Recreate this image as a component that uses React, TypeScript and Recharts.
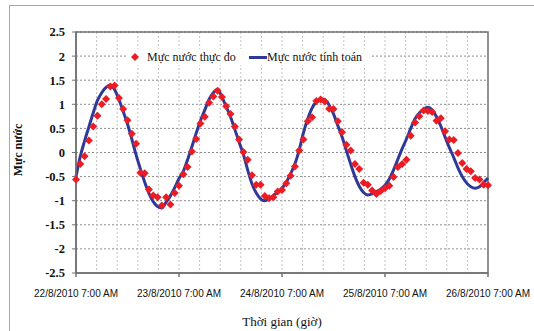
import {
  CartesianGrid,
  ComposedChart,
  Line,
  ReferenceArea,
  Scatter,
  XAxis,
  YAxis,
} from "recharts";

const OBS_RED = "#ec1c24"; // mực nước thực đo
const CALC_BLUE = "#2f3a98"; // mực nước tính toán
const AXIS_GRAY = "#727272";
const SERIF = "'Liberation Serif', 'Times New Roman', serif";
const SANS = "'Liberation Sans', Arial, sans-serif";

// hourly readings from 22/8/2010 7:00 AM, index = hours elapsed
const OBSERVED = [
  -0.56, -0.24, -0.08, 0.25, 0.54, 0.76, 1.0, 1.11, 1.37, 1.39, 1.13, 0.9, 0.67, 0.39, 0.18, -0.42,
  -0.43, -0.77, -0.89, -0.93, -1.1, -0.93, -1.08, -0.84, -0.69, -0.45, -0.3, 0.02, 0.28, 0.6, 0.74,
  1.03, 1.16, 1.28, 1.15, 0.96, 0.8, 0.54, 0.27, 0.01, -0.15, -0.47, -0.67, -0.67, -0.9, -0.95, -0.93,
  -0.81, -0.78, -0.64, -0.48, -0.29, 0.04, 0.27, 0.65, 0.73, 1.07, 1.1, 1.06, 0.91, 0.9, 0.65, 0.42,
  0.16, 0.04, -0.24, -0.34, -0.63, -0.67, -0.79, -0.86, -0.8, -0.74, -0.69, -0.51, -0.3, -0.24, -0.15,
  0.35, 0.62, 0.75, 0.87, 0.86, 0.84, 0.66, 0.71, 0.44, 0.27, 0.26, -0.01, -0.22, -0.34, -0.39, -0.53,
  -0.56, -0.67, -0.68,
];

const COMPUTED = [
  -0.5, -0.08, 0.24, 0.53, 0.82, 1.08, 1.24, 1.35, 1.4, 1.3, 1.1, 0.85, 0.59, 0.28, -0.05, -0.34,
  -0.61, -0.85, -1.02, -1.12, -1.15, -1.03, -0.9, -0.73, -0.54, -0.39, -0.15, 0.12, 0.4, 0.66, 0.88,
  1.1, 1.24, 1.31, 1.15, 0.95, 0.74, 0.48, 0.22, -0.04, -0.36, -0.65, -0.84, -0.96, -1.0, -0.96, -0.89,
  -0.82, -0.74, -0.62, -0.44, -0.24, 0.05, 0.41, 0.7, 0.92, 1.05, 1.11, 1.09, 0.98, 0.8, 0.56, 0.32,
  0.04, -0.24, -0.5, -0.7, -0.83, -0.88, -0.86, -0.81, -0.76, -0.68, -0.55, -0.36, -0.14, 0.08, 0.28,
  0.5, 0.7, 0.82, 0.9, 0.94, 0.88, 0.74, 0.55, 0.32, 0.1, -0.1, -0.32, -0.5, -0.63, -0.71, -0.74,
  -0.71, -0.62, -0.53,
];

const DAY_HOURS = [0, 24, 48, 72, 96];
const DAY_LABELS = [
  "22/8/2010 7:00 AM",
  "23/8/2010 7:00 AM",
  "24/8/2010 7:00 AM",
  "25/8/2010 7:00 AM",
  "26/8/2010 7:00 AM",
];
// vertical grid every 4.8 h, labels only on whole days
const GRID_HOURS = [
  0, 4.8, 9.6, 14.4, 19.2, 24, 28.8, 33.6, 38.4, 43.2, 48, 52.8, 57.6, 62.4, 67.2, 72, 76.8, 81.6,
  86.4, 91.2, 96,
];
const Y_TICKS = [-2.5, -2, -1.5, -1, -0.5, 0, 0.5, 1, 1.5, 2, 2.5];

const rows = OBSERVED.map((obs, hour) => ({ hour, obs, calc: COMPUTED[hour] }));

function Diamond({ cx, cy }: { cx?: number; cy?: number }) {
  if (cx == null || cy == null) return null;
  const r = 4;
  return (
    <path
      d={`M${cx},${cy - r}L${cx + r},${cy}L${cx},${cy + r}L${cx - r},${cy}Z`}
      fill={OBS_RED}
    />
  );
}

function DayTick({ x, y, payload }: { x?: number; y?: number; payload?: { value: number } }) {
  const i = payload ? DAY_HOURS.indexOf(payload.value) : -1;
  if (i < 0 || x == null || y == null) return <g />;
  return (
    <g>
      <line x1={x} x2={x} y1={y} y2={y + 4} stroke={AXIS_GRAY} strokeWidth={1.5} />
      <text x={x} y={y + 24} textAnchor="middle" fontFamily={SANS} fontSize={10} fill="#111">
        {DAY_LABELS[i]}
      </text>
    </g>
  );
}

export default function App() {
  return (
    <div
      style={{
        position: "fixed",
        left: 0,
        top: 0,
        width: 534,
        height: 331,
        overflow: "hidden",
        background: "#fff",
      }}
    >
      {/* khung ngoài */}
      <div
        style={{
          position: "absolute",
          left: 9,
          top: 5,
          width: 600,
          height: 400,
          borderLeft: "1.5px solid #a8a8a8",
          borderTop: "1.5px solid #a8a8a8",
        }}
      />
      <div style={{ position: "absolute", left: 0, top: 0 }}>
        <ComposedChart
          width={534}
          height={331}
          data={rows}
          margin={{ top: 32, right: 46, bottom: 0, left: 0 }}
        >
          <CartesianGrid vertical={false} stroke="#8a8a8a" strokeDasharray="2 2" />
          <CartesianGrid horizontal={false} stroke="#c2c2c2" strokeDasharray="2 2" />
          <XAxis
            type="number"
            dataKey="hour"
            domain={[0, 96]}
            ticks={GRID_HOURS}
            interval={0}
            height={58}
            tickSize={0}
            tickMargin={0}
            tickLine={false}
            axisLine={{ stroke: AXIS_GRAY, strokeWidth: 1.5 }}
            tick={(p: any) => <DayTick {...p} />}
          />
          <YAxis
            type="number"
            domain={[-2.5, 2.5]}
            ticks={Y_TICKS}
            interval={0}
            width={76}
            tickSize={4}
            tickMargin={7}
            tickLine={{ stroke: AXIS_GRAY }}
            axisLine={{ stroke: AXIS_GRAY, strokeWidth: 1.5 }}
            tick={{ fontSize: 12.5, fontWeight: 700, fontFamily: SERIF, fill: "#111" }}
            tickFormatter={(v: number) => String(v)}
          />
          <ReferenceArea
            x1={0}
            x2={96}
            y1={-2.5}
            y2={2.5}
            fill="none"
            fillOpacity={0}
            stroke={AXIS_GRAY}
            strokeWidth={1.5}
          />
          <Line
            type="monotone"
            dataKey="calc"
            stroke={CALC_BLUE}
            strokeWidth={3}
            dot={false}
            activeDot={false}
            isAnimationActive={false}
          />
          <Scatter dataKey="obs" fill={OBS_RED} shape={Diamond} isAnimationActive={false} />
        </ComposedChart>
      </div>

      {/* chú thích */}
      <div
        style={{
          position: "absolute",
          left: 127,
          top: 49,
          width: 244,
          height: 16,
          background: "#fff",
          fontFamily: SERIF,
          fontSize: 12,
          color: "#111",
        }}
      >
        <svg width={10} height={10} style={{ position: "absolute", left: 3, top: 3 }}>
          <Diamond cx={5} cy={5} />
        </svg>
        <span style={{ position: "absolute", left: 20, top: 0, lineHeight: "16px", whiteSpace: "nowrap" }}>
          Mực nước thực đo
        </span>
        <span
          style={{
            position: "absolute",
            left: 122,
            top: 7,
            width: 18,
            height: 3,
            background: CALC_BLUE,
          }}
        />
        <span style={{ position: "absolute", left: 140, top: 0, lineHeight: "16px", whiteSpace: "nowrap" }}>
          Mực nước tính toán
        </span>
      </div>

      <div
        style={{
          position: "absolute",
          left: 18,
          top: 150,
          transform: "translate(-50%, -50%) rotate(-90deg)",
          fontFamily: SERIF,
          fontSize: 12,
          fontWeight: 700,
          color: "#111",
          whiteSpace: "nowrap",
        }}
      >
        Mực nước
      </div>
      <div
        style={{
          position: "absolute",
          left: 282,
          top: 322,
          transform: "translate(-50%, -50%)",
          fontFamily: SERIF,
          fontSize: 13,
          color: "#111",
          whiteSpace: "nowrap",
        }}
      >
        Thời gian (giờ)
      </div>
    </div>
  );
}
